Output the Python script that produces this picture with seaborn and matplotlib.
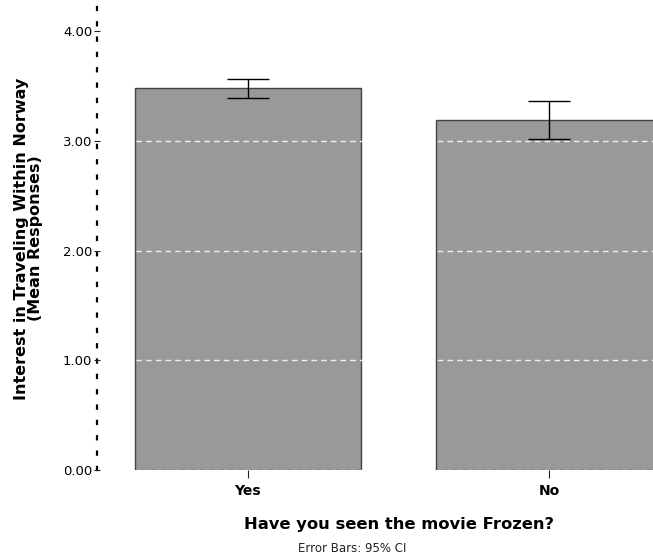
import matplotlib
matplotlib.use("Agg")
import matplotlib.pyplot as plt
import numpy as np
import pandas as pd
import seaborn as sns

GROUPS = ["Yes", "No"]
MEANS = [3.48, 3.19]
CI_LOW = [3.39, 3.02]
CI_HIGH = [3.56, 3.36]
Y_TICKS = [0.0, 1.0, 2.0, 3.0, 4.0]

W, H = 653, 560


def main():
    sns.set_theme(style="white")
    plt.rcParams["font.family"] = ["DejaVu Sans"]

    df = pd.DataFrame({"seen": GROUPS, "mean": MEANS})

    fig = plt.figure(figsize=(W / 100, H / 100), dpi=100)
    # axes run past the right edge, the original chart is cropped there
    ax = fig.add_axes([97 / W, 90 / H, 603 / W, 463 / H])

    sns.barplot(data=df, x="seen", y="mean", order=GROUPS, errorbar=None,
                color="#999999", saturation=1, width=0.75,
                edgecolor="#444444", linewidth=1.0, ax=ax)

    means = np.array(MEANS)
    yerr = [means - np.array(CI_LOW), np.array(CI_HIGH) - means]
    ax.errorbar(range(len(GROUPS)), means, yerr=yerr, fmt="none",
                ecolor="black", elinewidth=1.0, capsize=15, capthick=1.0, zorder=4)

    ax.set_ylim(0, 4.22)
    ax.set_xlim(-0.5, 1.5)
    ax.set_yticks(Y_TICKS)
    ax.set_yticklabels([f"{v:.2f}" for v in Y_TICKS], fontsize=9.5, color="black")
    ax.set_xticks(range(len(GROUPS)))
    ax.set_xticklabels(GROUPS, fontsize=10, fontweight="bold", color="black")

    # white dashes only show up where they cross the grey bars
    ax.set_axisbelow(False)
    ax.yaxis.grid(True, color="white", linestyle=(0, (4, 3)), linewidth=1.0, alpha=0.85)
    ax.xaxis.grid(False)

    for side in ["top", "right", "bottom"]:
        ax.spines[side].set_visible(False)
    ax.spines["left"].set_color("black")
    ax.spines["left"].set_linewidth(1.6)
    ax.spines["left"].set_linestyle((0, (1.4, 5.5)))

    ax.tick_params(axis="y", direction="inout", length=5, width=0.8, color="#222222", pad=1, left=True)
    ax.tick_params(axis="x", direction="out", length=6, width=0.8, color="#222222", pad=4, bottom=True)

    ax.set_xlabel("Have you seen the movie Frozen?", fontsize=11.8, fontweight="bold",
                  labelpad=14, color="black")
    ax.set_ylabel("Interest in Traveling Within Norway\n(Mean Responses)",
                  fontsize=11.5, fontweight="bold", labelpad=14, linespacing=0.95, color="black")

    fig.text(352 / W, 1 - 548 / H, "Error Bars: 95% CI", fontsize=8.5,
             ha="center", va="center", color="#222222")

    fig.savefig("out.png", dpi=100)
    plt.close(fig)


if __name__ == "__main__":
    main()
